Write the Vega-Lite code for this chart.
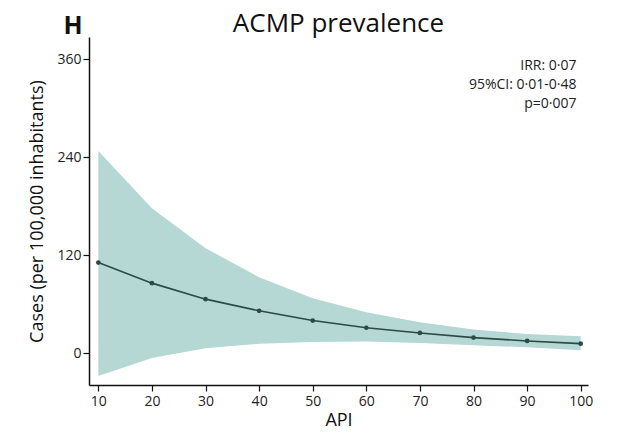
{
  "$schema": "https://vega.github.io/schema/vega-lite/v6.json",
  "width": 499,
  "height": 348,
  "autosize": "none",
  "padding": {"left": 89, "top": 37, "right": 31, "bottom": 48},
  "background": "white",
  "config": {
    "font": "Open Sans",
    "view": {"stroke": null},
    "axis": {
      "grid": false,
      "domainColor": "#111",
      "domainWidth": 1.5,
      "tickColor": "#111",
      "tickWidth": 1.2,
      "tickSize": 6,
      "labelFont": "Open Sans",
      "labelFontSize": 14,
      "labelColor": "#222",
      "titleFont": "Open Sans",
      "titleFontSize": 18,
      "titleFontWeight": "normal",
      "titleColor": "#111"
    }
  },
  "title": {
    "text": "ACMP prevalence",
    "font": "Open Sans",
    "fontSize": 26,
    "fontWeight": "normal",
    "color": "#111",
    "anchor": "middle",
    "offset": 4,
    "dy": 27
  },
  "data": {
    "values": [
      {"api": 10, "cases": 110.9, "lo": -28, "hi": 247.6},
      {"api": 20, "cases": 85.7, "lo": -6, "hi": 177.5},
      {"api": 30, "cases": 66.1, "lo": 6, "hi": 128.5},
      {"api": 40, "cases": 51.8, "lo": 11.4, "hi": 93},
      {"api": 50, "cases": 39.9, "lo": 13.5, "hi": 67.3},
      {"api": 60, "cases": 31.1, "lo": 14.3, "hi": 50},
      {"api": 70, "cases": 24.7, "lo": 12.4, "hi": 37.7},
      {"api": 80, "cases": 19, "lo": 9.6, "hi": 28.8},
      {"api": 90, "cases": 14.9, "lo": 7.1, "hi": 23.5},
      {"api": 100, "cases": 11.6, "lo": 3.5, "hi": 20.6}
    ]
  },
  "encoding": {
    "x": {
      "field": "api",
      "type": "quantitative",
      "scale": {"domain": [8.26, 101.36], "nice": false, "zero": false},
      "axis": {"values": [10, 20, 30, 40, 50, 60, 70, 80, 90, 100], "title": "API", "labelPadding": 3, "titleY": 26}
    }
  },
  "layer": [
    {
      "mark": {"type": "area", "color": "#b5d8d5", "opacity": 1},
      "encoding": {
        "y": {
          "field": "lo",
          "type": "quantitative",
          "scale": {"domain": [-39, 387], "nice": false, "zero": false},
          "axis": {"values": [0, 120, 240, 360], "title": "Cases (per 100,000 inhabitants)", "labelPadding": 2, "titlePadding": 10}
        },
        "y2": {"field": "hi"}
      }
    },
    {
      "mark": {"type": "line", "color": "#2b4a45", "strokeWidth": 1.6},
      "encoding": {"y": {"field": "cases", "type": "quantitative"}}
    },
    {
      "mark": {"type": "point", "filled": true, "color": "#2b4a45", "size": 22, "opacity": 1},
      "encoding": {"y": {"field": "cases", "type": "quantitative"}}
    },
    {
      "transform": [{"filter": "datum.api === 100"}],
      "mark": {"type": "text", "align": "right", "baseline": "middle", "fontSize": 14, "fontWeight": "normal", "color": "#222", "lineHeight": 19, "font": "Open Sans"},
      "encoding": {
        "x": {"datum": 99.2},
        "y": {"datum": 352},
        "text": {"value": ["IRR: 0·07", "95%CI: 0·01-0·48", "p=0·007"]}
      }
    },
    {
      "transform": [{"filter": "datum.api === 100"}],
      "mark": {"type": "text", "align": "center", "baseline": "middle", "fontSize": 25, "fontWeight": "bold", "color": "#111", "font": "Open Sans"},
      "encoding": {
        "x": {"datum": 5.3},
        "y": {"datum": 401},
        "text": {"value": "H"}
      }
    }
  ]
}
